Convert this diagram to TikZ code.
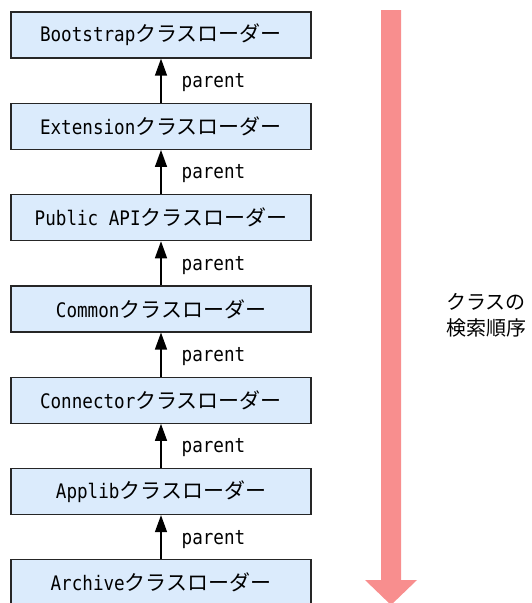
\documentclass[tikz,border=0pt]{standalone}
\usepackage{fontspec}
\newfontfamily\cjk{Noto Sans CJK JP}
\newfontfamily\mono[FakeStretch=0.88]{DejaVu Sans Mono}
\usetikzlibrary{arrows.meta}
\definecolor{boxfill}{RGB}{219,235,252}
\definecolor{pinkarrow}{RGB}{248,142,142}
\newcommand{\clname}[1]{{\mono\fontsize{20}{22}\selectfont #1}{\cjk\fontsize{21}{21}\selectfont クラスローダー}}
\begin{document}
\begin{tikzpicture}[x=1pt,y=-1pt,
  clbox/.style={draw=black!85, line width=1.3pt, fill=boxfill, minimum width=300pt, minimum height=46pt, inner sep=0pt},
  parentarrow/.style={line width=1.4pt, -{Triangle[length=17pt,width=12pt]}},
  plabel/.style={anchor=west, xshift=20pt, yshift=-2pt, inner sep=0pt, font=\mono\fontsize{20}{22}\selectfont}]
\useasboundingbox (0,0) rectangle (531,603);
\clip (0,0) rectangle (531,603);
% search order arrow
\fill[pinkarrow] (381,10) -- (401,10) -- (401,580) -- (417,580) -- (391,605) -- (365,580) -- (381,580) -- cycle;
\node[align=center, font=\cjk\fontsize{20}{26}\selectfont, inner sep=0pt] (order) at (486,315) {クラスの\\検索順序};
% boxes
\node[clbox] (b1) at (161,35) {\clname{Bootstrap}};
\node[clbox] (b2) at (161,126.3) {\clname{Extension}};
\node[clbox] (b3) at (161,217.6) {\clname{Public API}};
\node[clbox] (b4) at (161,308.9) {\clname{Common}};
\node[clbox] (b5) at (161,400.2) {\clname{Connector}};
\node[clbox] (b6) at (161,491.5) {\clname{Applib}};
\node[clbox] (b7) at (161,582.8) {\clname{Archive}};
% parent arrows
\draw[parentarrow] (b2.north) -- node[plabel] {parent} (b1.south);
\draw[parentarrow] (b3.north) -- node[plabel] {parent} (b2.south);
\draw[parentarrow] (b4.north) -- node[plabel] {parent} (b3.south);
\draw[parentarrow] (b5.north) -- node[plabel] {parent} (b4.south);
\draw[parentarrow] (b6.north) -- node[plabel] {parent} (b5.south);
\draw[parentarrow] (b7.north) -- node[plabel] {parent} (b6.south);
\end{tikzpicture}
\end{document}
